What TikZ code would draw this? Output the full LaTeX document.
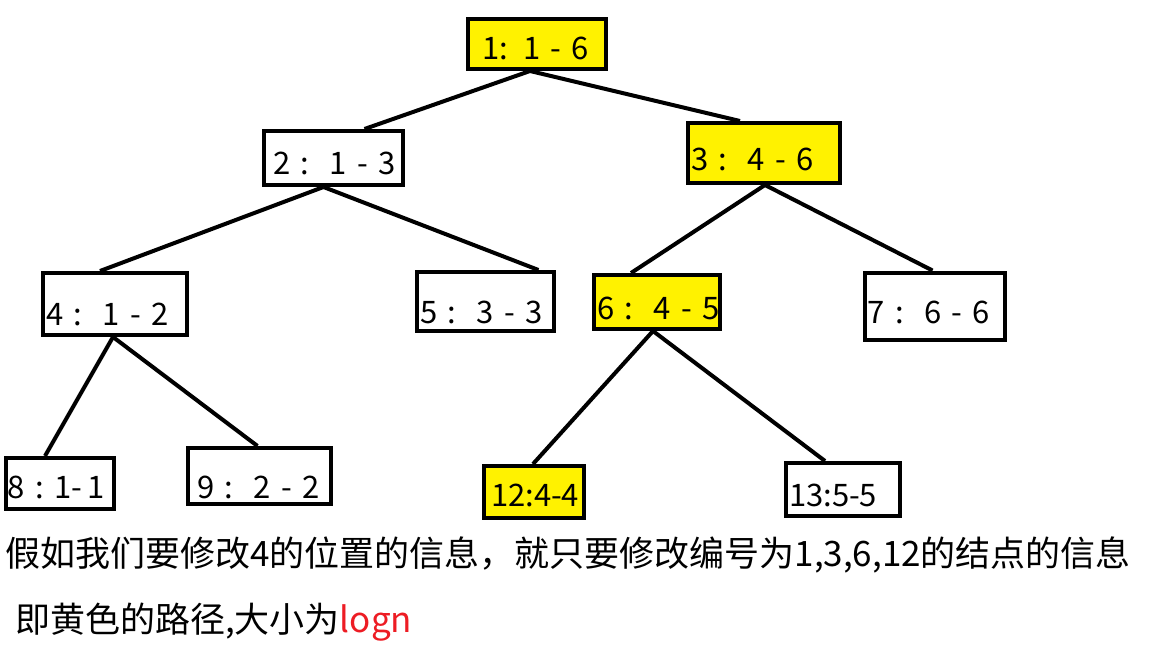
\documentclass[tikz,border=0pt]{standalone}
\usepackage{fontspec}
\setmainfont{Noto Sans CJK SC}
\definecolor{segyellow}{RGB}{255,242,0}
\definecolor{notered}{RGB}{237,28,36}

\begin{document}
\begin{tikzpicture}[x=1pt, y=-1pt,
  segbox/.style 2 args={draw, line width=4pt, minimum width=#1pt, minimum height=#2pt,
    text width=#1pt-6pt, inner xsep=3pt, inner ysep=0pt, align=left,
    text height=34pt, text depth=0pt, font=\fontsize{31}{36}\selectfont},
  hot/.style={fill=segyellow},
  link/.style={line width=4pt},
  note/.style={anchor=base west, inner sep=0pt, font=\fontsize{35}{42}\selectfont}]
  \useasboundingbox (0,0) rectangle (1152,648);

  %% Segment tree nodes: index : range
  \node[segbox={138}{50}, hot, text height=30pt] (n1) at (537,44) {\hspace*{11pt}1: 1 - 6};
  \node[segbox={139}{54}, text height=32pt] (n2) at (333.5,158) {\hspace*{6pt}2 :\ \ 1 - 3};
  \node[segbox={152}{60}, hot] (n3) at (764,153) {\mbox{3 :\ \ 4 - 6}};
  \node[segbox={144}{62}, text height=42pt] (n4) at (115,304) {4 :\ \ 1 - 2};
  \node[segbox={137}{59}, text height=43pt] (n5) at (485.5,301.5) {5 :\ \ 3 - 3};
  \node[segbox={126}{54}, hot] (n6) at (657,302) {\mbox{6 :\ \ 4 - 5}};
  \node[segbox={140}{67}] (n7) at (934.5,306) {7 :\ \ 6 - 6};
  \node[segbox={108}{51}, text height=29pt] (n8) at (60,483.5) {\mbox{\hspace*{-1pt}8 :\ 1-\,1}};
  \node[segbox={143}{56}, text height=44pt] (n9) at (259.5,476) {\hspace*{6pt}9 :\ \ 2 - 2};
  \node[segbox={100}{52}, hot, text height=28pt] (n12) at (534,492) {\hspace*{4pt}12:4-4};
  \node[segbox={114}{53}] (n13) at (843,489.5) {13:5-5};

  %% Tree edges
  \draw[link] ([xshift=-7pt]n1.south) -- ([xshift=31pt]n2.north);
  \draw[link] ([xshift=-7pt]n1.south) -- ([xshift=-24pt]n3.north);
  \draw[link] ([xshift=-10pt]n2.south) -- ([xshift=-15pt]n4.north);
  \draw[link] ([xshift=-10pt]n2.south) -- ([xshift=53pt]n5.north);
  \draw[link] ([xshift=1pt]n3.south) -- ([xshift=-26pt]n6.north);
  \draw[link] ([xshift=1pt]n3.south) -- ([xshift=-2pt]n7.north);
  \draw[link] ([xshift=-2pt]n4.south) -- ([xshift=-15pt]n8.north);
  \draw[link] ([xshift=-2pt]n4.south) -- ([xshift=-2pt]n9.north);
  \draw[link] ([xshift=-4pt]n6.south) -- ([xshift=-1pt]n12.north);
  \draw[link] ([xshift=-4pt]n6.south) -- ([xshift=-18pt]n13.north);

  %% Explanation
  \node[note] (note1) at (5,566) {假如我们要修改4的位置的信息，就只要修改编号为1,3,6,12的结点的信息};
  \node[note] (note2) at (15,632) {即黄色的路径,大小为\textcolor{notered}{logn}};
\end{tikzpicture}
\end{document}
